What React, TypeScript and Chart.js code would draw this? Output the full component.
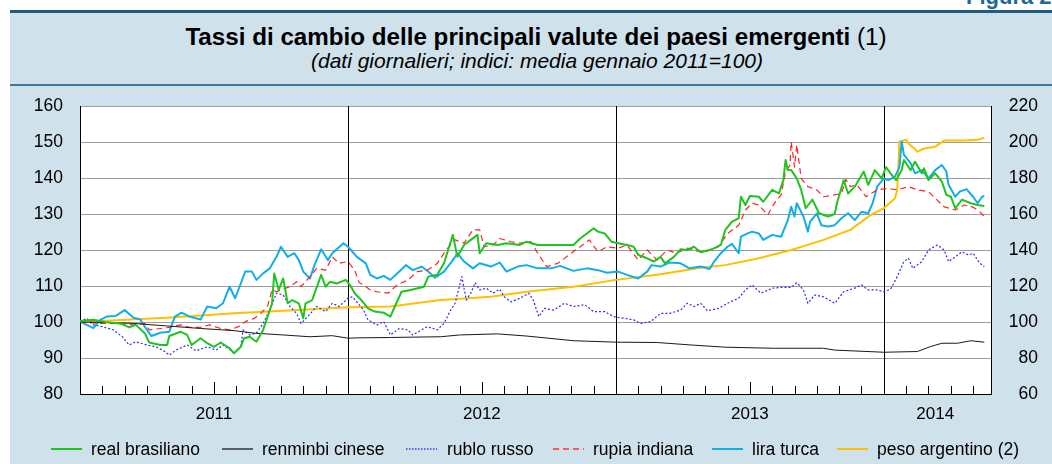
import React, { useEffect, useRef } from 'react';
import Chart from 'chart.js/auto';

const FONT = '"Liberation Sans", Arial, Helvetica, sans-serif';

// x values: months elapsed since 1 January 2011
const yearLabels = ['2011', '2012', '2013', '2014'];
const yearLabelPositions = [6, 18, 30, 38.3];
const yearStarts = [12, 24, 36];
const lastMonthTick = 40;

const realBrasiliano: [number, number][] = [
  [0, 100.3], [0.6, 100.6], [1.2, 99.9], [1.8, 99.6], [2.2, 98.5], [2.5, 99.2], [2.9, 96.9], [3.1, 94.3], [3.6, 93.6], [3.9, 93.6],
  [4.0, 96.1], [4.5, 97.3], [4.8, 96.4], [5.0, 93.6], [5.4, 95.5], [5.7, 94.1], [6.0, 93.1], [6.3, 94.3], [6.7, 92.7], [6.9, 91.3],
  [7.2, 93.1], [7.35, 95.5], [7.6, 95.9], [7.9, 94.5], [8.2, 97.8], [8.4, 101.5], [8.6, 105.2], [8.7, 113.5], [8.9, 108.9], [9.1, 112.1],
  [9.3, 105.2], [9.5, 106.1], [9.8, 105.2], [10.0, 101.0], [10.1, 105.2], [10.4, 106.1], [10.8, 113.1], [11.0, 109.8], [11.2, 111.2], [11.5, 110.7],
  [11.9, 111.7], [12.1, 110.2], [12.3, 108], [12.6, 106.1], [12.9, 103.8], [13.2, 102.9], [13.6, 102.6], [13.9, 101.5], [14.1, 104.3], [14.4, 108.4],
  [14.8, 108.9], [15.4, 109.8], [15.6, 112.6], [16.0, 113.1], [16.3, 116.3], [16.7, 124.2], [16.9, 118.1], [17.2, 121.4], [17.5, 122.8], [17.8, 124.2],
  [17.9, 119.1], [18.2, 121.9], [18.7, 121.4], [19.1, 121.9], [19.7, 121.4], [20.0, 122.3], [20.5, 121.4], [21.2, 121.4], [22.1, 121.4], [22.4, 123.2],
  [22.7, 124.6], [23.0, 126.0], [23.2, 125.1], [23.5, 124.6], [23.8, 122.3], [24.1, 121.9], [24.5, 121.4], [24.8, 120.9], [25.0, 118.6], [25.4, 117.7],
  [25.7, 116.8], [26.0, 118.1], [26.2, 116.3], [26.6, 118.1], [26.9, 120.2], [27.2, 120], [27.5, 120.9], [27.8, 119.4], [28.3, 120.2], [28.7, 121.4],
  [28.9, 125.6], [29.2, 127.9], [29.5, 128.8], [29.6, 134.8], [29.8, 132.5], [30.0, 135], [30.4, 134.8], [30.6, 133.4], [31.0, 136.7], [31.3, 135.7],
  [31.5, 139.4], [31.6, 145], [31.7, 142.2], [31.85, 142.2], [32.1, 139.9], [32.3, 136.7], [32.5, 131.6], [32.8, 134], [33.1, 130.2], [33.5, 129.3],
  [33.8, 130], [33.9, 133], [34.2, 139.4], [34.4, 135.7], [34.7, 137.6], [35.1, 141.8], [35.3, 138.1], [35.6, 142.2], [35.9, 139.9], [36.1, 143],
  [36.3, 141.3], [36.55, 139.4], [36.8, 142.2], [36.9, 145], [37.2, 142.2], [37.4, 144.5], [37.7, 141.3], [37.8, 142.7], [38.0, 139.4], [38.3, 141.3],
  [38.6, 139], [38.8, 135.3], [39.0, 134.8], [39.2, 131.6], [39.5, 134], [39.9, 133], [40.2, 132.5], [40.5, 132.2],
];

const renminbiCinese: [number, number][] = [
  [0, 100], [1, 99.9], [2.4, 99.6], [3.9, 98.9], [5.4, 98.2], [6.9, 97.6], [7.8, 96.9], [9.1, 96.4], [10.3, 95.9], [11.3, 96.2],
  [12, 95.5], [12.5, 95.6], [13.9, 95.7], [16.15, 95.9], [17.0, 96.4], [18.7, 96.7], [20.0, 96.1], [22.1, 94.8], [24, 94.4], [25.85, 94.3],
  [27.4, 93.6], [28.9, 93.0], [31.1, 92.7], [33.3, 92.7], [33.8, 92.2], [36, 91.6], [37.5, 91.8], [38.1, 93.2], [38.6, 94.1], [39.3, 94.1],
  [39.9, 94.8], [40.5, 94.4],
];

const rubloRusso: [number, number][] = [
  [0, 100.1], [0.3, 101], [0.6, 99.2], [1.0, 98.7], [1.5, 97.8], [1.9, 95.9], [2.2, 93.6], [2.5, 94.5], [3.0, 93.6], [3.4, 93.1],
  [3.8, 91.8], [4.0, 90.8], [4.3, 92.2], [4.8, 93.6], [5.2, 92], [5.7, 93.1], [6.1, 92.2], [6.4, 93.6], [6.7, 92.4], [6.9, 91.3],
  [7.2, 93.1], [7.3, 97.8], [7.6, 96.4], [7.9, 96.9], [8.2, 99.6], [8.5, 103.3], [8.8, 108], [9.1, 107.5], [9.4, 104.3], [9.7, 102.4],
  [9.9, 99.6], [10.2, 101.5], [10.6, 104.3], [11.0, 102.9], [11.3, 105.2], [11.6, 104.3], [12.0, 106.6], [12.2, 107], [12.4, 105.6], [12.7, 103.3],
  [12.9, 100.6], [13.3, 99.2], [13.6, 100.1], [13.9, 96.4], [14.3, 98.2], [14.7, 97.8], [14.9, 96.4], [15.3, 97.8], [15.55, 98.7], [16.0, 97.8],
  [16.3, 99.6], [16.6, 103.3], [16.8, 105.2], [17.1, 112.6], [17.3, 106.1], [17.5, 108], [17.7, 110.9], [17.9, 108.9], [18.2, 109.4], [18.5, 108],
  [18.8, 109.1], [19.0, 107], [19.3, 105.6], [19.7, 106.6], [20.1, 108], [20.3, 106.1], [20.55, 101.5], [20.8, 103.8], [21.2, 103.3], [21.7, 105.2],
  [22.1, 104.3], [22.6, 104.8], [23.0, 102.9], [23.5, 102.9], [23.9, 101.5], [24.4, 101], [24.8, 100.6], [25.1, 99.6], [25.55, 100.1], [26.0, 102.4],
  [26.4, 102.4], [26.9, 103.3], [27.2, 105.2], [27.5, 104.3], [27.8, 105.2], [28.1, 103.1], [28.6, 103.8], [29.0, 105.2], [29.5, 106.6], [29.8, 108.9],
  [30.1, 110.3], [30.5, 108], [31.0, 109.4], [31.4, 109.6], [31.85, 109.6], [32.1, 110.9], [32.4, 108.9], [32.6, 105.2], [32.9, 107.5], [33.3, 107],
  [33.8, 105.2], [34.2, 108.4], [34.7, 109.4], [35.0, 110.3], [35.3, 108.9], [35.7, 108.9], [36.0, 108.4], [36.3, 109.1], [36.6, 112.6], [36.9, 116.8],
  [37.1, 117.7], [37.3, 114.9], [37.7, 116.8], [38.0, 120], [38.4, 121.4], [38.7, 120], [38.9, 116.8], [39.2, 118.1], [39.5, 119.5], [39.8, 118.6],
  [40.0, 119.1], [40.3, 116.3], [40.5, 115.4],
];

const rupiaIndiana: [number, number][] = [
  [0, 100.1], [0.9, 99.6], [1.6, 99.6], [2.4, 99.2], [2.9, 99.6], [3.1, 97.8], [3.6, 98.2], [4.0, 98.5], [4.5, 99.2], [4.9, 98.5],
  [5.4, 98.5], [5.8, 99.2], [6.3, 98.2], [6.7, 97.8], [7.1, 98.7], [7.4, 100.1], [7.8, 101], [8.1, 102.4], [8.4, 104.4], [8.6, 108.9],
  [8.8, 108.4], [9.0, 108.9], [9.4, 109.8], [9.7, 111.2], [9.9, 109.8], [10.3, 112.6], [10.6, 114.9], [11.0, 114.4], [11.3, 118.1], [11.6, 116.3],
  [12.0, 116.8], [12.3, 114.4], [12.5, 111], [12.7, 110.3], [13.0, 108.9], [13.3, 108.4], [13.8, 108], [14.2, 110.3], [14.7, 111.7], [15.1, 114],
  [15.55, 114.4], [16.0, 116.3], [16.4, 120], [16.8, 122.8], [17.2, 121.9], [17.6, 125.6], [17.9, 125.6], [18.1, 120.9], [18.5, 121.4], [18.8, 123.2],
  [19.3, 122.3], [19.7, 121.9], [20.2, 122.3], [20.5, 119.1], [20.9, 115.4], [21.4, 116.3], [22.0, 119.1], [22.4, 120.9], [22.8, 122.8], [23.2, 119.5],
  [23.6, 120.9], [24.1, 120.5], [24.5, 121.4], [25.0, 117.2], [25.4, 120], [25.85, 117.2], [26.3, 120], [26.7, 119.1], [27.2, 120.5], [27.8, 119.5],
  [28.0, 119.5], [28.6, 120.9], [29.0, 124.6], [29.5, 126.9], [29.8, 131.1], [30.1, 133], [30.4, 132.5], [30.8, 129.7], [31.1, 133], [31.4, 135.3],
  [31.6, 141.8], [31.8, 143.6], [31.85, 150.1], [32.0, 143.1], [32.1, 149.2], [32.3, 139.9], [32.6, 137.6], [33.0, 136.7], [33.3, 134.8], [33.8, 135.3],
  [34.1, 135.7], [34.3, 139.6], [34.5, 137.6], [34.8, 138.1], [35.2, 134.8], [35.7, 136.7], [36.2, 137.1], [36.6, 136.7], [37.1, 137.6], [37.5, 136.7],
  [38.0, 136.2], [38.3, 134.4], [38.7, 132], [39.2, 131.1], [39.6, 132.5], [40.0, 131.9], [40.3, 130.6], [40.5, 129.3],
];

const liraTurca: [number, number][] = [
  [0, 100.1], [0.3, 99.2], [0.6, 98.3], [0.9, 100.6], [1.2, 101.5], [1.6, 101.7], [2.0, 103.3], [2.4, 101.2], [2.7, 100.7], [3.0, 97.8],
  [3.2, 96.1], [3.6, 97.0], [4.0, 97.3], [4.25, 101.5], [4.55, 102.6], [4.9, 101.5], [5.4, 100.7], [5.7, 104.3], [6.1, 103.8], [6.4, 105.2],
  [6.7, 109.8], [6.95, 106.6], [7.2, 110.7], [7.4, 114], [7.7, 114], [7.9, 111.7], [8.2, 113.5], [8.5, 114.9], [8.8, 118.1], [9.0, 120.9],
  [9.3, 118.1], [9.6, 119.1], [9.8, 117.2], [10.0, 114], [10.3, 112.1], [10.5, 115.8], [10.8, 120.2], [11.1, 117.2], [11.3, 119.1], [11.8, 121.9],
  [12.0, 120.9], [12.4, 118.1], [12.8, 116.3], [13.0, 113.1], [13.3, 112.1], [13.6, 112.8], [13.9, 111.7], [14.3, 114], [14.6, 115.8], [14.9, 114.4],
  [15.3, 115.4], [15.6, 114], [15.9, 112.3], [16.3, 114], [16.7, 117.2], [16.9, 119.1], [17.2, 116.8], [17.6, 114.9], [17.9, 116.3], [18.4, 115.4],
  [18.8, 116.5], [19.1, 114], [19.6, 115.4], [20.0, 115.8], [20.5, 114.9], [21.1, 114.9], [21.5, 115.6], [22.1, 114.2], [22.7, 114.9], [23.2, 114.4],
  [23.6, 113.7], [24.1, 114], [24.5, 113.1], [25.0, 112.1], [25.4, 114], [25.6, 115.8], [26.0, 115.4], [26.4, 116.5], [26.9, 116.3], [27.3, 114.9],
  [27.8, 115.4], [28.2, 114.7], [28.4, 116.8], [28.7, 119.1], [29.0, 120.9], [29.2, 121.7], [29.5, 119.1], [29.6, 123.7], [29.9, 124.6], [30.1, 125.1],
  [30.4, 124.6], [30.6, 122.8], [31.0, 124.2], [31.4, 123.7], [31.7, 128.3], [31.85, 132], [32.0, 129.3], [32.1, 133], [32.4, 129.3], [32.6, 125.1],
  [32.7, 127.9], [33.0, 130.2], [33.2, 126.9], [33.5, 126.5], [33.8, 126.9], [34.1, 128.8], [34.4, 130.2], [34.7, 128.3], [35.0, 130.6], [35.3, 130.2],
  [35.5, 133], [35.7, 137.6], [36.0, 139.9], [36.2, 139.4], [36.5, 140.4], [36.7, 143.1], [36.8, 150.1], [36.9, 146.4], [37.2, 144.1], [37.4, 141.3],
  [37.7, 142.2], [38.0, 139.9], [38.3, 142.2], [38.6, 143.6], [38.8, 141.8], [38.9, 138.1], [39.2, 134.8], [39.4, 136.2], [39.7, 136.9], [40.0, 134.8],
  [40.2, 133], [40.4, 134.8], [40.5, 135],
];

// right-hand scale
const pesoArgentino: [number, number][] = [
  [0, 100], [3.9, 102.4], [6.9, 104.8], [9.8, 106.6], [12, 108.2], [13.9, 108.6], [16.15, 112.2], [18.4, 114], [20, 116.8], [22.1, 119.6],
  [24, 123.4], [25.85, 126.2], [27.8, 130.2], [28.9, 131.6], [30.4, 135.4], [31.85, 140], [33.3, 145.6], [34.5, 151.2], [35.4, 159.4], [36, 163.2],
  [36.5, 168.8], [36.6, 173.4], [36.7, 200.2], [37.0, 201.2], [37.1, 199.2], [37.4, 196], [37.5, 194.6], [37.8, 196.4], [38.3, 197.4], [38.7, 200.8],
  [39.6, 200.8], [40.2, 201.2], [40.5, 202.4],
];

const seriesNames = ['real brasiliano', 'renminbi cinese', 'rublo russo', 'rupia indiana', 'lira turca', 'peso argentino (2)'];

const toXY = (s: [number, number][]) => s.map(([x, y]) => ({ x, y }));

const framePlugin = {
  id: 'frame',
  beforeDraw(chart: any) {
    const { ctx, chartArea: a } = chart;
    ctx.save();
    ctx.fillStyle = '#ffffff';
    ctx.fillRect(a.left, a.top, a.right - a.left, a.bottom - a.top);
    ctx.restore();
  },
  beforeDatasetsDraw(chart: any) {
    const { ctx, chartArea: a } = chart;
    const x = chart.scales.x;
    ctx.save();
    ctx.strokeStyle = '#000';
    ctx.lineWidth = 1;
    for (const m of yearStarts) {
      const px = Math.round(x.getPixelForValue(m)) + 0.5;
      ctx.beginPath();
      ctx.moveTo(px, a.top);
      ctx.lineTo(px, a.bottom);
      ctx.stroke();
    }
    for (let m = 1; m <= lastMonthTick; m++) {
      if (yearStarts.includes(m)) continue;
      const len = m % 12 === 6 ? 12 : 8;
      const px = Math.round(x.getPixelForValue(m)) + 0.5;
      ctx.beginPath();
      ctx.moveTo(px, a.bottom);
      ctx.lineTo(px, a.bottom - len);
      ctx.stroke();
    }
    ctx.restore();
  },
};

const legendItems = [
  { color: '#1fc41f', width: 2, dash: '' },
  { color: '#333333', width: 1.5, dash: '' },
  { color: '#3a3aff', width: 1.3, dash: '1.5,1.5' },
  { color: '#ff3030', width: 1.5, dash: '6,4' },
  { color: '#12aee8', width: 2, dash: '' },
  { color: '#ffc000', width: 2, dash: '' },
];
const legendSwatchX = [51, 222, 406, 553, 712, 837];
const legendTextX = [91, 262, 447, 593, 752, 877];

export default function App() {
  const ref = useRef<HTMLCanvasElement | null>(null);

  useEffect(() => {
    if (!ref.current) return;
    const chart = new Chart(ref.current, {
      type: 'line',
      data: {
        datasets: [
          { label: seriesNames[0], data: toXY(realBrasiliano), borderColor: '#1fc41f', borderWidth: 2, yAxisID: 'y' },
          { label: seriesNames[1], data: toXY(renminbiCinese), borderColor: '#1a1a1a', borderWidth: 1, yAxisID: 'y' },
          { label: seriesNames[2], data: toXY(rubloRusso), borderColor: '#2a2aff', borderWidth: 1.2, borderDash: [2, 2], yAxisID: 'y' },
          { label: seriesNames[3], data: toXY(rupiaIndiana), borderColor: '#ff2424', borderWidth: 1.2, borderDash: [6, 4], yAxisID: 'y' },
          { label: seriesNames[4], data: toXY(liraTurca), borderColor: '#12aee8', borderWidth: 2, yAxisID: 'y' },
          { label: seriesNames[5], data: toXY(pesoArgentino), borderColor: '#ffc000', borderWidth: 2, yAxisID: 'y1' },
        ] as any,
      },
      options: {
        animation: false,
        responsive: false,
        devicePixelRatio: 1,
        events: [],
        elements: { point: { radius: 0 }, line: { tension: 0, borderCapStyle: 'butt', borderJoinStyle: 'round' } },
        layout: { padding: { left: 30, top: 106, right: 14, bottom: 40 } },
        plugins: { legend: { display: false }, tooltip: { enabled: false }, title: { display: false } },
        scales: {
          x: {
            type: 'linear',
            min: 0,
            max: 40.8,
            grid: { display: false, drawTicks: false },
            border: { display: true, color: '#000', width: 1 },
            afterBuildTicks: (s: any) => {
              s.ticks = yearLabelPositions.map((v) => ({ value: v }));
            },
            afterFit: (s: any) => {
              s.height = 30;
            },
            ticks: {
              padding: 10,
              autoSkip: false,
              maxRotation: 0,
              color: '#000',
              font: { family: FONT, size: 17 },
              callback: (_v: any, i: number) => yearLabels[i],
            },
          },
          y: {
            type: 'linear',
            position: 'left',
            min: 80,
            max: 160,
            grid: {
              drawTicks: false,
              lineWidth: 1,
              color: (c: any) => (c.tick && c.tick.value === 80 ? 'rgba(0,0,0,0)' : '#9c9c9c'),
            },
            border: { display: true, color: '#000', width: 1 },
            afterFit: (s: any) => {
              s.width = 50;
            },
            ticks: { stepSize: 10, padding: 17, color: '#000', font: { family: FONT, size: 17.5 } },
          },
          y1: {
            type: 'linear',
            position: 'right',
            min: 60,
            max: 220,
            grid: { display: false, drawTicks: false },
            border: { display: true, color: '#000', width: 1 },
            afterFit: (s: any) => {
              s.width = 47;
            },
            ticks: { stepSize: 20, crossAlign: 'far', color: '#000', font: { family: FONT, size: 17.5 } },
          },
        },
      } as any,
      plugins: [framePlugin],
    });
    return () => chart.destroy();
  }, []);

  return (
    <div
      style={{
        position: 'absolute',
        left: 0,
        top: 0,
        width: 1052,
        height: 464,
        overflow: 'hidden',
        background: '#ffffff',
        fontFamily: FONT,
        color: '#000',
      }}
    >
      <div
        style={{
          position: 'absolute',
          left: 966,
          top: -13.6,
          fontSize: 22,
          lineHeight: '22px',
          fontWeight: 'bold',
          color: '#1d6a92',
          whiteSpace: 'nowrap',
        }}
      >
        Figura 2
      </div>
      <div style={{ position: 'absolute', left: 10, top: 10, width: 1042, height: 454, background: '#cfe1eb' }} />
      <div style={{ position: 'absolute', left: 10, top: 10, width: 1042, height: 3, background: '#1f5d7c' }} />
      <div style={{ position: 'absolute', left: 10, top: 84, width: 1042, height: 2, background: '#3b7796' }} />
      <div
        style={{
          position: 'absolute',
          left: 15,
          width: 1042,
          top: 25.4,
          textAlign: 'center',
          fontSize: 24.2,
          lineHeight: '24px',
          whiteSpace: 'nowrap',
        }}
      >
        <span style={{ fontWeight: 'bold' }}>Tassi di cambio delle principali valute dei paesi emergenti</span>
        <span> (1)</span>
      </div>
      <div
        style={{
          position: 'absolute',
          left: 16,
          width: 1042,
          top: 50,
          textAlign: 'center',
          fontSize: 21,
          lineHeight: '21px',
          fontStyle: 'italic',
          whiteSpace: 'nowrap',
        }}
      >
        (dati giornalieri; indici: media gennaio 2011=100)
      </div>
      <canvas ref={ref} width={1052} height={464} style={{ position: 'absolute', left: 0, top: 0, width: 1052, height: 464 }} />
      {seriesNames.map((name, i) => (
        <React.Fragment key={name}>
          <svg
            width={32}
            height={6}
            style={{ position: 'absolute', left: legendSwatchX[i], top: 446 }}
          >
            <line
              x1={0}
              y1={3}
              x2={31}
              y2={3}
              stroke={legendItems[i].color}
              strokeWidth={legendItems[i].width}
              strokeDasharray={legendItems[i].dash || undefined}
            />
          </svg>
          <div
            style={{
              position: 'absolute',
              left: legendTextX[i],
              top: 440.4,
              fontSize: 17.5,
              lineHeight: '18px',
              whiteSpace: 'nowrap',
            }}
          >
            {name}
          </div>
        </React.Fragment>
      ))}
    </div>
  );
}
